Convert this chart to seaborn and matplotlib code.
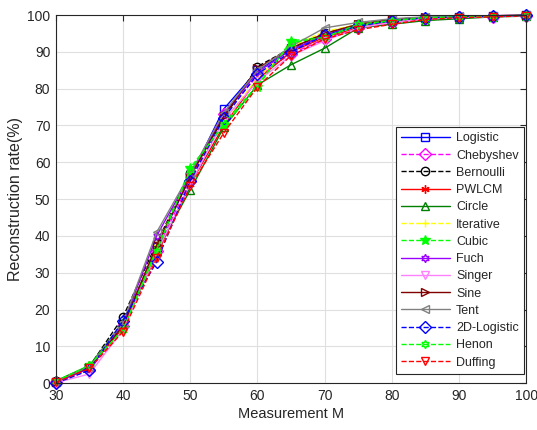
import matplotlib
matplotlib.use("Agg")
import matplotlib.pyplot as plt
import seaborn as sns
import pandas as pd

# Measurement counts and reconstruction rates (%) for each chaotic map
measurements = [30, 35, 40, 45, 50, 55, 60, 65, 70, 75, 80, 85, 90, 95, 100]

logistic    = [0.3, 4.0, 16.0, 37.0, 56.0, 74.5, 85.0, 90.5, 94.5, 97.0, 98.5, 99.3, 99.5, 99.7, 99.9]
chebyshev   = [0.2, 3.5, 15.5, 36.0, 55.0, 73.0, 83.5, 89.5, 93.5, 96.5, 98.0, 99.0, 99.4, 99.6, 99.8]
bernoulli   = [0.5, 4.5, 18.0, 38.0, 57.0, 72.0, 86.0, 91.0, 95.0, 97.5, 98.5, 99.2, 99.5, 99.7, 99.9]
pwlcm       = [0.4, 4.2, 15.0, 35.0, 54.0, 70.0, 82.5, 90.0, 94.0, 96.5, 98.0, 99.0, 99.4, 99.6, 99.8]
circle      = [0.6, 4.8, 16.5, 36.0, 52.5, 69.5, 81.0, 86.5, 91.0, 96.5, 97.5, 98.5, 99.0, 99.5, 99.7]
iterative   = [0.3, 4.0, 15.5, 37.5, 56.5, 71.0, 83.0, 91.5, 95.5, 97.5, 98.8, 99.3, 99.5, 99.7, 99.9]
cubic       = [0.5, 4.6, 15.0, 36.5, 58.5, 70.0, 80.5, 93.0, 94.0, 97.0, 98.5, 99.0, 99.4, 99.6, 99.8]
fuch        = [0.3, 4.0, 16.0, 40.0, 56.5, 73.0, 84.5, 90.5, 94.5, 97.5, 98.8, 99.4, 99.6, 99.8, 100.0]
singer      = [0.1, 2.5, 14.5, 35.5, 54.0, 71.5, 82.0, 89.0, 93.0, 96.5, 98.0, 99.0, 99.3, 99.6, 99.8]
sine        = [0.4, 4.3, 15.5, 37.5, 56.0, 72.5, 85.5, 91.0, 95.0, 97.5, 98.8, 99.4, 99.6, 99.8, 100.0]
tent        = [0.4, 4.5, 16.5, 41.0, 57.0, 73.5, 85.0, 91.5, 96.5, 98.0, 99.0, 99.5, 99.7, 99.8, 100.0]
logistic_2d = [0.0, 3.5, 17.0, 33.0, 55.0, 72.0, 84.0, 90.0, 94.5, 97.0, 98.5, 99.2, 99.5, 99.7, 99.9]
henon       = [0.5, 4.8, 14.5, 36.0, 58.0, 70.5, 81.0, 92.5, 94.0, 97.5, 98.5, 99.3, 99.5, 99.7, 99.9]
duffing     = [0.2, 4.0, 14.0, 34.0, 53.5, 68.0, 80.5, 89.0, 93.5, 96.0, 97.5, 98.8, 99.3, 99.5, 99.8]

series_names = ["Logistic", "Chebyshev", "Bernoulli", "PWLCM", "Circle", "Iterative",
                "Cubic", "Fuch", "Singer", "Sine", "Tent", "2D-Logistic", "Henon", "Duffing"]
series_values = [logistic, chebyshev, bernoulli, pwlcm, circle, iterative,
                 cubic, fuch, singer, sine, tent, logistic_2d, henon, duffing]

HEXAGRAM = (6, 1, 0)
ASTERISK = (6, 2, 0)
# name: (colour, linestyle, marker, filled)
styles = {
    "Logistic":    ("#0000FF", "-",  "s",      False),
    "Chebyshev":   ("#FF00FF", "--", "D",      False),
    "Bernoulli":   ("#000000", "--", "o",      False),
    "PWLCM":       ("#FF0000", "-",  ASTERISK, False),
    "Circle":      ("#008000", "-",  "^",      False),
    "Iterative":   ("#FFFF00", "--", "+",      False),
    "Cubic":       ("#00FF00", "--", "*",      True),
    "Fuch":        ("#9900FF", "-",  HEXAGRAM, False),
    "Singer":      ("#FF80FF", "-",  "v",      False),
    "Sine":        ("#800000", "-",  ">",      False),
    "Tent":        ("#808080", "-",  "<",      False),
    "2D-Logistic": ("#0000FF", "--", "D",      False),
    "Henon":       ("#00FF00", "--", HEXAGRAM, False),
    "Duffing":     ("#FF0000", "--", "v",      False),
}

sns.set_theme(style="whitegrid")
plt.rcParams["font.family"] = ["Liberation Sans", "DejaVu Sans"]

fig = plt.figure(figsize=(5.37, 4.30), dpi=100)
ax = fig.add_axes([0.104, 0.109, 0.876, 0.856])

for name, vals in zip(series_names, series_values):
    colour, ls, mk, filled = styles[name]
    df = pd.DataFrame({"M": measurements, "rate": vals})
    sns.lineplot(data=df, x="M", y="rate", ax=ax, label=name,
                 color=colour, linestyle=ls, linewidth=1.0,
                 marker=mk, markersize=6 if mk != "*" else 7.5,
                 markeredgecolor=colour,
                 markerfacecolor=colour if filled else "none",
                 markeredgewidth=1.0, clip_on=False)

ax.set_xlim(30, 100)
ax.set_ylim(0, 100)
ax.set_xticks(range(30, 101, 10))
ax.set_yticks(range(0, 101, 10))
ax.set_facecolor("white")
ax.grid(True, color="#DFDFDF", linewidth=0.8)
for sp in ax.spines.values():
    sp.set_visible(True)
    sp.set_color("#262626")
    sp.set_linewidth(0.8)
ax.tick_params(direction="in", length=4, width=0.8, top=True, right=True,
               labelsize=10, colors="#262626", pad=4)
ax.set_xlabel("Measurement M", fontsize=10.5, color="#262626", labelpad=3)
ax.set_ylabel("Reconstruction rate(%)", fontsize=11.5, color="#262626", labelpad=3)

leg = ax.legend(loc="lower right", bbox_to_anchor=(1.008, 0.009), fontsize=9,
                handlelength=3.9, handletextpad=0.5, labelspacing=0.42,
                borderpad=0.4, frameon=True, fancybox=False, framealpha=1)
leg.get_frame().set_edgecolor("#262626")
leg.get_frame().set_linewidth(0.8)
for t in leg.get_texts():
    t.set_color("#262626")

fig.savefig("out.png", dpi=100, facecolor="white")
